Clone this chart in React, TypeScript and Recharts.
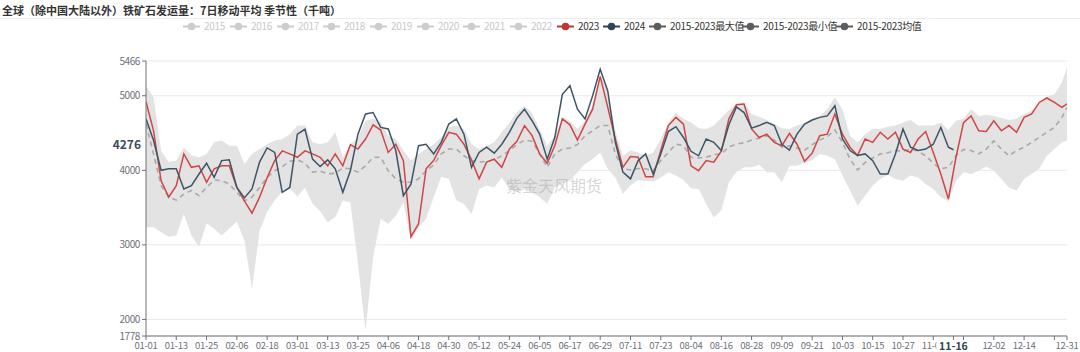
import React from 'react';
import { ComposedChart, Area, Line, XAxis, YAxis, CartesianGrid, ReferenceLine } from 'recharts';

const TITLE = '全球（除中国大陆以外）铁矿石发运量：7日移动平均 季节性（千吨）';
const WATERMARK = '紫金天风期货';

// day index within the (leap) year: 0 = 01-01 ... 365 = 12-31
const DAYS = [
  0, 3, 6, 9, 12, 15, 18, 21, 24, 27,
  30, 33, 36, 39, 42, 45, 48, 51, 54, 57,
  60, 63, 66, 69, 72, 75, 78, 81, 84, 87,
  90, 93, 96, 99, 102, 105, 108, 111, 114, 117,
  120, 123, 126, 129, 132, 135, 138, 141, 144, 147,
  150, 153, 156, 159, 162, 165, 168, 171, 174, 177,
  180, 183, 186, 189, 192, 195, 198, 201, 204, 207,
  210, 213, 216, 219, 222, 225, 228, 231, 234, 237,
  240, 243, 246, 249, 252, 255, 258, 261, 264, 267,
  270, 273, 276, 279, 282, 285, 288, 291, 294, 297,
  300, 303, 306, 309, 312, 315, 318, 321, 324, 327,
  330, 333, 336, 339, 342, 345, 348, 351, 354, 357,
  360, 363, 365,
];

const S2023 = [
  4920, 4530, 3860, 3640, 3795, 4220, 4040, 4060, 3840, 4020,
  4060, 4060, 3770, 3590, 3425, 3640, 3900, 4130, 4260, 4220,
  4175, 4260, 4220, 4175, 4060, 4220, 4060, 4345, 4285, 4420,
  4610, 4540, 4240, 4350, 4130, 3110, 3280, 4020, 4130, 4330,
  4510, 4485, 4350, 4140, 3885, 4110, 4150, 4040, 4285, 4390,
  4600, 4465, 4220, 4095, 4330, 4690, 4610, 4405, 4620, 4820,
  5260, 4845, 4420, 4040, 4185, 4175, 3915, 3915, 4265, 4600,
  4710, 4620, 4060, 3995, 4130, 4110, 4255, 4690, 4880, 4890,
  4555, 4440, 4485, 4375, 4330, 4495, 4350, 4120, 4230, 4465,
  4485, 4755, 4485, 4310, 4200, 4420, 4375, 4510, 4420, 4510,
  4285, 4240, 4420, 4520, 4240, 3950, 3615, 4175, 4640, 4730,
  4530, 4520, 4665, 4530, 4600, 4510, 4710, 4755, 4910, 4970,
  4910, 4845, 4890,
];

const DAYS_2024 = [
  0, 3, 6, 9, 12, 15, 18, 21, 24, 27,
  30, 33, 36, 39, 42, 45, 48, 51, 54, 57,
  60, 63, 66, 69, 72, 75, 78, 81, 84, 87,
  90, 93, 96, 99, 102, 105, 108, 111, 114, 117,
  120, 123, 126, 129, 132, 135, 138, 141, 144, 147,
  150, 153, 156, 159, 162, 165, 168, 171, 174, 177,
  180, 183, 186, 189, 192, 195, 198, 201, 204, 207,
  210, 213, 216, 219, 222, 225, 228, 231, 234, 237,
  240, 243, 246, 249, 252, 255, 258, 261, 264, 267,
  270, 273, 276, 279, 282, 285, 288, 291, 294, 297,
  300, 303, 306, 309, 312, 315, 318, 320,
];

const S2024 = [
  4690, 4400, 4000, 4020, 4020, 3750, 3795, 3950, 4095, 3905,
  4130, 4140, 3770, 3630, 3750, 4110, 4300, 4240, 3705, 3770,
  4485, 4550, 4150, 4050, 4140, 4020, 3705, 3995, 4485, 4755,
  4775, 4575, 4555, 4265, 3660, 3815, 4330, 4350, 4220, 4375,
  4620, 4690, 4485, 4040, 4240, 4310, 4230, 4350, 4510, 4700,
  4820, 4665, 4485, 4150, 4440, 5020, 5135, 4820, 4690, 5000,
  5355, 5065, 4375, 3975, 3885, 4130, 4220, 3950, 4220, 4520,
  4585, 4440, 4255, 4195, 4420, 4375, 4265, 4610, 4850, 4775,
  4565, 4600, 4645, 4600, 4350, 4270, 4485, 4620, 4675, 4710,
  4730, 4865, 4420, 4265, 4200, 4220, 4130, 3950, 3950, 4220,
  4555, 4310, 4265, 4285, 4350, 4575, 4310, 4276,
];

const MAX_15_23 = [
  5130, 4980, 4260, 4110, 4130, 4310, 4200, 4175, 4220, 4375,
  4400, 4330, 4330, 4085, 4220, 4285, 4350, 4400, 4420, 4485,
  4600, 4600, 4375, 4350, 4375, 4510, 4175, 4350, 4440, 4665,
  4690, 4645, 4465, 4420, 4265, 4130, 4220, 4285, 4350, 4440,
  4575, 4600, 4555, 4350, 4285, 4330, 4375, 4510, 4640, 4775,
  4865, 4765, 4555, 4330, 4465, 4710, 4665, 4555, 4665, 4890,
  5270, 5065, 4530, 4195, 4265, 4240, 4195, 4240, 4420, 4640,
  4765, 4690, 4640, 4565, 4555, 4600, 4700, 4810, 4890, 4910,
  4755, 4720, 4675, 4620, 4565, 4555, 4600, 4630, 4690, 4730,
  4820, 4980, 4820, 4465, 4375, 4485, 4555, 4555, 4585, 4600,
  4640, 4675, 4600, 4600, 4600, 4640, 4540, 4665, 4690, 4820,
  4730, 4745, 4730, 4700, 4675, 4690, 4755, 4800, 4910, 4985,
  5020, 5180, 5380,
];

const MIN_15_23 = [
  3235, 3235, 3170, 3110, 3125, 3415, 3125, 2970, 3290, 3215,
  3125, 3215, 3315, 3060, 2410, 3190, 3440, 3595, 3720, 3765,
  3650, 3765, 3550, 3450, 3305, 3370, 3595, 3570, 2745, 1855,
  2835, 3350, 3280, 3390, 3570, 3060, 3235, 3350, 3640, 3915,
  3885, 3595, 3550, 3415, 3750, 3795, 3770, 3905, 3750, 3705,
  3750, 3705, 3640, 3550, 3770, 3825, 3860, 3975, 4085, 4150,
  4240, 4020, 3905, 3685, 3795, 3870, 3860, 3850, 3905, 3975,
  3930, 3870, 3760, 3750, 3550, 3370, 3460, 3840, 3975, 4040,
  4040, 4075, 3975, 3975, 3840, 4060, 4060, 4100, 4140, 4220,
  4195, 4150, 3930, 3730, 3525, 3660, 3795, 3885, 3940, 3885,
  3860, 3930, 3905, 3815, 3750, 3640, 3585, 3860, 3975, 3950,
  3995, 4050, 3995, 3885, 3770, 3730, 3885, 3950, 4020, 4195,
  4285, 4375, 4400,
];

const MEAN_15_23 = [
  4620, 4220, 3795, 3640, 3600, 3680, 3730, 3660, 3770, 3870,
  3860, 3815, 3705, 3590, 3640, 3770, 3905, 3995, 4050, 4120,
  4140, 4095, 3975, 3990, 3950, 3960, 4030, 4020, 3975, 4060,
  4175, 4175, 3995, 3885, 3840, 3840, 3885, 3995, 4070, 4220,
  4285, 4285, 4195, 4130, 4110, 4120, 4140, 4195, 4265, 4345,
  4405, 4390, 4220, 4040, 4220, 4285, 4300, 4345, 4465, 4530,
  4600, 4600, 4220, 4020, 4005, 4025, 4020, 3995, 4130, 4240,
  4350, 4330, 4175, 4165, 4175, 4210, 4220, 4315, 4350, 4370,
  4405, 4430, 4465, 4405, 4310, 4330, 4300, 4270, 4345, 4405,
  4450, 4540, 4375, 4150, 4005, 4105, 4165, 4220, 4235, 4265,
  4255, 4285, 4255, 4195, 4095, 4020, 4040, 4195, 4280, 4265,
  4220, 4285, 4395, 4285, 4195, 4265, 4310, 4375, 4440, 4510,
  4575, 4710, 4845,
];

const Y_TICKS = [1778, 2000, 3000, 4000, 5000, 5466];
const Y_DOMAIN = [1778, 5466];

const X_TICKS = [0, 12, 24, 36, 48, 60, 72, 84, 96, 108, 120, 132, 144, 156, 168, 180,
  192, 204, 216, 228, 240, 252, 264, 276, 288, 300, 312, 320, 324, 336, 348, 360, 365];
const X_TICK_LABELS = ['01-01', '01-13', '01-25', '02-06', '02-18', '03-01', '03-13', '03-25',
  '04-06', '04-18', '04-30', '05-12', '05-24', '06-05', '06-17', '06-29', '07-11', '07-23',
  '08-04', '08-16', '08-28', '09-09', '09-21', '10-03', '10-15', '10-27', '11-08', '11-16',
  '', '12-02', '12-14', '', '12-31'];

const LATEST_DAY = 320;
const LATEST_VALUE = 4276;

const LEGEND_NAMES = ['2015', '2016', '2017', '2018', '2019', '2020', '2021', '2022', '2023', '2024',
  '2015-2023最大值', '2015-2023最小值', '2015-2023均值'];
const LEGEND_COLORS = ['#cccccc', '#cccccc', '#cccccc', '#cccccc', '#cccccc', '#cccccc', '#cccccc', '#cccccc',
  '#c23531', '#2f4554', '#5c5c5c', '#5c5c5c', '#5c5c5c'];
const LEGEND_ACTIVE = [false, false, false, false, false, false, false, false, true, true, true, true, true];
const LEGEND_LEFT = [204, 251, 298, 344, 391, 438, 484, 531, 578, 624, 670, 763, 857];

const COLOR_2023 = '#d24545';
const COLOR_2024 = '#3e5467';
const AXIS_COLOR = '#6e7079';
const FONT = '"Noto Sans CJK SC", "Noto Sans", "Liberation Sans", sans-serif';

const rows = DAYS.map((d, i) => ({
  day: d,
  y2023: S2023[i],
  mean: MEAN_15_23[i],
  band: [MIN_15_23[i], MAX_15_23[i]],
}));
const rows2024 = DAYS_2024.map((d, i) => ({ day: d, y2024: S2024[i] }));

const XTick = (props: any) => {
  const { x, y, payload } = props;
  const idx = X_TICKS.indexOf(payload.value);
  const label = X_TICK_LABELS[idx];
  if (!label) return <g />;
  if (payload.value === LATEST_DAY) {
    return (
      <g>
        <rect x={x - 17} y={y - 1} width={34} height={12} fill="#ffffff" />
        <text x={x} y={y + 8} textAnchor="middle" fontSize={10.5} fontWeight="bold" fill="#2f4554">{label}</text>
      </g>
    );
  }
  return (
    <text x={x} y={y + 7} textAnchor="middle" fontSize={9.5} fill={AXIS_COLOR} letterSpacing={-0.3}>{label}</text>
  );
};

const YTick = (props: any) => {
  const { x, y, payload } = props;
  return (
    <text x={x} y={y + 3.5} textAnchor="end" fontSize={10} fill={AXIS_COLOR} letterSpacing={-0.4}>{payload.value}</text>
  );
};

const LatestLabel = (props: any) => {
  const vb = props.viewBox || {};
  return (
    <text x={(vb.x ?? 146) - 5} y={(vb.y ?? 150) - 0.5} textAnchor="end" fontSize={12} fontWeight="bold" fill="#3b4d5e">{LATEST_VALUE}</text>
  );
};

const LegendIcon = ({ color }: { color: string }) => (
  <svg width={17} height={9} style={{ display: 'block' }}>
    <line x1={0} y1={4.5} x2={17} y2={4.5} stroke={color} strokeWidth={2} />
    <circle cx={8.5} cy={4.5} r={3.8} fill={color} />
  </svg>
);

export default function App() {
  return (
    <div style={{ position: 'relative', width: 1080, height: 352, fontFamily: FONT, background: '#fff' }}>
      <style>{'body{margin:0;}'}</style>
      <div style={{ position: 'absolute', left: 2, top: 2, fontSize: 11, lineHeight: '16px', fontWeight: 'bold', color: '#333', whiteSpace: 'nowrap' }}>{TITLE}</div>
      <div style={{ position: 'absolute', left: 0, top: 18, width: 1080, height: 1, background: '#ededed' }} />
      {LEGEND_NAMES.map((name, i) => (
        <div key={name} style={{ position: 'absolute', left: LEGEND_LEFT[i] - 21, top: 19, height: 14, display: 'flex', alignItems: 'center', whiteSpace: 'nowrap' }}>
          <LegendIcon color={LEGEND_COLORS[i]} />
          <span style={{ marginLeft: 4, fontSize: 10, lineHeight: '14px', color: LEGEND_ACTIVE[i] ? '#333' : '#c8c8c8', letterSpacing: -0.3 }}>{name}</span>
        </div>
      ))}
      <ComposedChart width={1080} height={352} data={rows} margin={{ top: 61, right: 13, bottom: 0, left: 0 }}>
        <CartesianGrid vertical={false} stroke="#e9e9e9" />
        <XAxis dataKey="day" type="number" domain={[0, 365]} ticks={X_TICKS} interval={0} height={16}
          tick={<XTick />} tickSize={4} tickMargin={2} stroke={AXIS_COLOR} allowDataOverflow />
        <YAxis type="number" domain={Y_DOMAIN} ticks={Y_TICKS} interval={0} width={146}
          tick={<YTick />} tickSize={4} tickMargin={2} stroke={AXIS_COLOR} allowDataOverflow />
        <Area dataKey="band" type="linear" stroke="none" fill="#e3e3e3" fillOpacity={1} isAnimationActive={false} dot={false} activeDot={false} />
        <Line dataKey="mean" type="linear" stroke="#a9a9a9" strokeWidth={1.6} strokeDasharray="5 4" dot={false} isAnimationActive={false} />
        <Line dataKey="y2023" type="linear" stroke={COLOR_2023} strokeWidth={1.5} dot={false} isAnimationActive={false} />
        <Line data={rows2024} dataKey="y2024" type="linear" stroke={COLOR_2024} strokeWidth={1.5} dot={false} isAnimationActive={false} />
        <ReferenceLine y={LATEST_VALUE} stroke="none" label={<LatestLabel />} />
      </ComposedChart>
      <div style={{ position: 'absolute', left: 506, top: 175, fontSize: 16, lineHeight: '20px', color: 'rgba(150,150,150,0.4)', whiteSpace: 'nowrap', pointerEvents: 'none' }}>{WATERMARK}</div>
    </div>
  );
}
